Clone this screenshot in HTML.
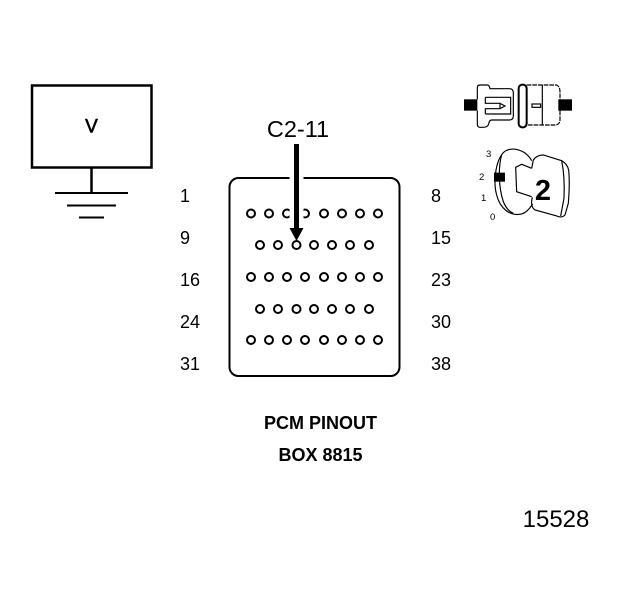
<!DOCTYPE html>
<html><head><meta charset="utf-8"><style>
html,body{margin:0;padding:0;background:#fff;width:624px;height:600px;overflow:hidden}
svg{display:block}
text{font-family:"Liberation Sans",sans-serif;fill:#000}
</style></head><body>
<svg width="624" height="600" viewBox="0 0 624 600" xmlns="http://www.w3.org/2000/svg">
<rect width="624" height="600" fill="#fff"/>
<!-- V box -->
<rect x="32" y="85.5" width="119.5" height="82" fill="none" stroke="#000" stroke-width="2.5"/>
<text x="91.5" y="132.500" font-size="19" text-anchor="middle" stroke="#000" stroke-width="0.6">V</text>
<path d="M91.5 168V193" stroke="#000" stroke-width="2.5" fill="none"/>
<path d="M55 193H128M67 205.500H116M79 217.500H104" stroke="#000" stroke-width="2" fill="none"/>
<!-- Connector body -->
<rect x="229.500" y="178" width="170" height="198" rx="9" fill="none" stroke="#000" stroke-width="2"/>
<g fill="none" stroke="#000" stroke-width="2">
<g><circle cx="251" cy="213.500" r="4"/><circle cx="269" cy="213.500" r="4"/><circle cx="287" cy="213.500" r="4"/><circle cx="305" cy="213.500" r="4"/><circle cx="324" cy="213.500" r="4"/><circle cx="342" cy="213.500" r="4"/><circle cx="360" cy="213.500" r="4"/><circle cx="378" cy="213.500" r="4"/></g>
<g><circle cx="260" cy="245" r="4"/><circle cx="278" cy="245" r="4"/><circle cx="296.500" cy="245" r="4"/><circle cx="314" cy="245" r="4"/><circle cx="332" cy="245" r="4"/><circle cx="350" cy="245" r="4"/><circle cx="369" cy="245" r="4"/></g>
<g><circle cx="251" cy="277" r="4"/><circle cx="269" cy="277" r="4"/><circle cx="287" cy="277" r="4"/><circle cx="305" cy="277" r="4"/><circle cx="324" cy="277" r="4"/><circle cx="342" cy="277" r="4"/><circle cx="360" cy="277" r="4"/><circle cx="378" cy="277" r="4"/></g>
<g><circle cx="260" cy="309" r="4"/><circle cx="278" cy="309" r="4"/><circle cx="296.500" cy="309" r="4"/><circle cx="314" cy="309" r="4"/><circle cx="332" cy="309" r="4"/><circle cx="350" cy="309" r="4"/><circle cx="369" cy="309" r="4"/></g>
<g><circle cx="251" cy="340" r="4"/><circle cx="269" cy="340" r="4"/><circle cx="287" cy="340" r="4"/><circle cx="305" cy="340" r="4"/><circle cx="324" cy="340" r="4"/><circle cx="342" cy="340" r="4"/><circle cx="360" cy="340" r="4"/><circle cx="378" cy="340" r="4"/></g>
</g>
<!-- Arrow with white halo -->
<rect x="289.500" y="170" width="14" height="58" fill="#fff"/>
<rect x="294" y="144" width="5" height="86" fill="#000"/>
<path d="M289.500 228H303.500L296.500 241Z" fill="#000"/>
<text x="298" y="137" font-size="23.500" text-anchor="middle">C2-11</text>
<!-- Labels -->
<g font-size="18">
<text x="180" y="202">1</text><text x="180" y="244">9</text><text x="180" y="286">16</text><text x="180" y="328">24</text><text x="180" y="370">31</text>
<text x="431" y="202">8</text><text x="431" y="244">15</text><text x="431" y="286">23</text><text x="431" y="328">30</text><text x="431" y="370">38</text>
</g>
<text x="320.500" y="429" font-size="18" font-weight="bold" text-anchor="middle">PCM PINOUT</text>
<text x="320.500" y="461" font-size="18" font-weight="bold" text-anchor="middle">BOX 8815</text>
<text x="556" y="527" font-size="24" text-anchor="middle">15528</text>
<!-- Icon top -->
<g transform="translate(450,70) scale(0.3333)" fill="none" stroke="#000" stroke-width="3.500">
<rect x="42" y="88" width="40" height="34" fill="#000" stroke="none"/>
<rect x="325" y="88" width="41" height="34" fill="#000" stroke="none"/>
<path d="M82 88V52Q82 45 90 45H112Q118 45 120 56H178Q190 56 190 68V138Q190 150 178 150H125Q118 150 116 162Q113 172 100 172H90Q82 172 82 162V122"/>
<path d="M106 82H182V132H106M106 82V100H150V116H106V132M150 100L165 108L150 116"/>
<rect x="206" y="44" width="24" height="128" rx="11" stroke-width="6"/>
<path d="M230 45H320Q330 50 330 65V150Q330 162 318 165H230" stroke-dasharray="14 3"/>
<path d="M277 45V165"/>
<rect x="246" y="102" width="26" height="10"/>
</g>
<!-- Icon bottom -->
<g transform="translate(450,70) scale(0.3333)" fill="none" stroke="#000" stroke-width="3.500">
<path d="M245 272C225 236 180 228 160 248C135 275 130 340 140 375C150 415 180 440 215 432C230 428 240 415 248 402"/>
<path d="M155 255C145 290 145 350 160 395C168 415 178 425 190 430"/>
<path d="M245 295L215 283L197 292L200 365L245 380"/>
<path d="M245 295L250 270Q260 255 280 255L335 272Q352 282 356 300Q360 340 355 400L345 435Q335 445 320 438L255 420Q240 410 247 382"/>
<path d="M335 272Q345 320 342 385L332 438"/>
<rect x="132" y="308" width="33" height="27" fill="#000" stroke="none"/>
</g>
<text x="543" y="200" font-size="29" font-weight="bold" text-anchor="middle">2</text>
<g font-size="9.500">
<text x="486" y="157">3</text><text x="479" y="180">2</text><text x="481" y="201">1</text><text x="490" y="220">0</text>
</g>
</svg>
</body></html>
